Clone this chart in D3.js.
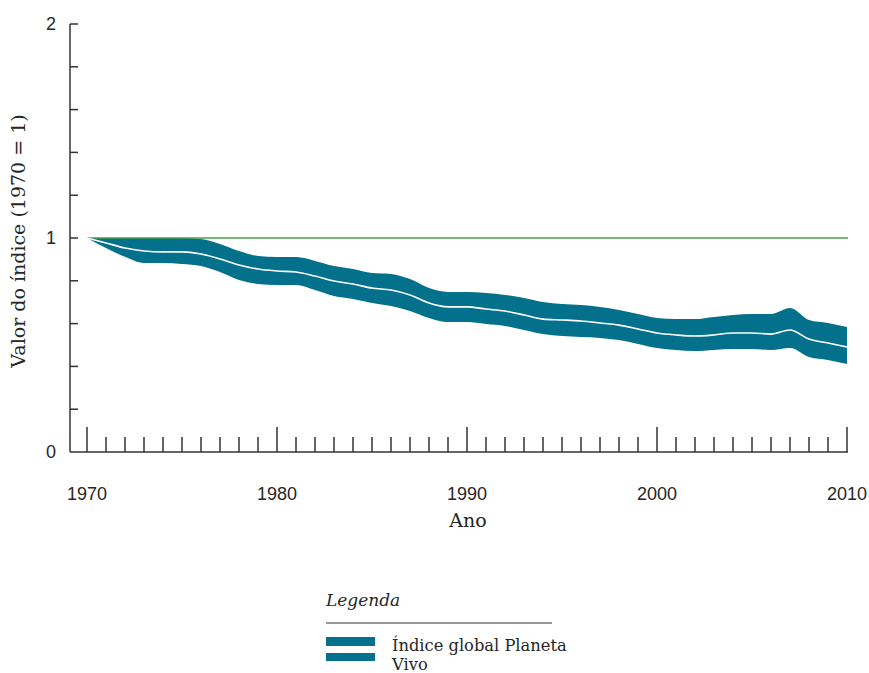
<!DOCTYPE html>
<html>
<head>
<meta charset="utf-8">
<script src="https://cdn.jsdelivr.net/npm/d3@7"></script>
<style>
  html, body { margin: 0; padding: 0; background: #fff; }
  svg { display: block; }
</style>
</head>
<body>
<svg id="chart" width="869" height="673"></svg>
<script>
// Living Planet Index, 1970–2010 (1970 = 1), with confidence limits
const years = d3.range(1970, 2011);
const indexValue = [
  1.000, 0.977, 0.953, 0.939, 0.935, 0.935, 0.925, 0.902, 0.874, 0.855,
  0.846, 0.841, 0.822, 0.799, 0.785, 0.766, 0.757, 0.734, 0.696, 0.678,
  0.678, 0.668, 0.659, 0.640, 0.621, 0.617, 0.612, 0.603, 0.593, 0.575,
  0.556, 0.547, 0.542, 0.547, 0.556, 0.556, 0.551, 0.570, 0.528, 0.509,
  0.491
];
const upperLimit = [
  1.000, 1.000, 1.000, 1.000, 1.000, 1.000, 0.995, 0.972, 0.939, 0.916,
  0.911, 0.911, 0.893, 0.869, 0.855, 0.836, 0.832, 0.808, 0.766, 0.748,
  0.748, 0.743, 0.734, 0.720, 0.701, 0.692, 0.687, 0.678, 0.664, 0.645,
  0.626, 0.621, 0.621, 0.631, 0.640, 0.645, 0.645, 0.673, 0.617, 0.603,
  0.584
];
const lowerLimit = [
  1.000, 0.953, 0.912, 0.883, 0.883, 0.879, 0.869, 0.841, 0.804, 0.785,
  0.780, 0.780, 0.757, 0.729, 0.715, 0.696, 0.682, 0.659, 0.626, 0.607,
  0.607, 0.598, 0.589, 0.570, 0.551, 0.542, 0.537, 0.533, 0.523, 0.505,
  0.486, 0.477, 0.472, 0.477, 0.481, 0.481, 0.477, 0.486, 0.444, 0.430,
  0.411
];
const yTickValues = d3.range(0, 2.0001, 0.2);
const yTickLabels = { 0: "0", 1: "1", 2: "2" };
const xLabelYears = [1970, 1980, 1990, 2000, 2010];

const bandColor = "#03708c";
const axisColor = "#333333";
const textColor = "#262626";
const refColor = "#4a9e4a";
const serif = "'DejaVu Serif', serif";
const sans = "'Liberation Sans', Arial, sans-serif";

const svg = d3.select("#chart");

const axisLeft = 70, axisBottom = 452, axisRight = 848, axisTop = 24;
const x = d3.scaleLinear().domain([1970, 2010]).range([87, 847]);
const y = d3.scaleLinear().domain([0, 2]).range([axisBottom, axisTop]);

const data = years.map((yr, i) => ({
  year: yr, v: indexValue[i], hi: upperLimit[i], lo: lowerLimit[i]
}));

// confidence band
const band = d3.area()
  .x(d => x(d.year))
  .y0(d => y(d.lo))
  .y1(d => y(d.hi))
  .curve(d3.curveMonotoneX);
svg.append("path")
  .datum(data)
  .attr("d", band)
  .attr("fill", bandColor);

// reference line at 1970 level
svg.append("line")
  .attr("x1", x(1970)).attr("x2", axisRight)
  .attr("y1", y(1)).attr("y2", y(1))
  .attr("stroke", refColor)
  .attr("stroke-width", 1.3);

// index line
const line = d3.line()
  .x(d => x(d.year))
  .y(d => y(d.v))
  .curve(d3.curveMonotoneX);
svg.append("path")
  .datum(data)
  .attr("d", line)
  .attr("fill", "none")
  .attr("stroke", "#ffffff")
  .attr("stroke-width", 1.6);

// y axis
const yAxis = svg.append("g").attr("stroke", axisColor).attr("stroke-width", 1.5);
yAxis.append("line")
  .attr("x1", axisLeft).attr("x2", axisLeft)
  .attr("y1", axisTop).attr("y2", axisBottom);
yAxis.selectAll("line.tick")
  .data(yTickValues.filter(v => v > 0.01))
  .join("line")
  .attr("class", "tick")
  .attr("x1", axisLeft).attr("x2", axisLeft + 8)
  .attr("y1", d => y(d)).attr("y2", d => y(d));

svg.selectAll("text.ylab")
  .data(Object.keys(yTickLabels).map(Number))
  .join("text")
  .attr("class", "ylab")
  .attr("x", 56)
  .attr("y", d => y(d))
  .attr("dy", "0.36em")
  .attr("text-anchor", "end")
  .attr("font-family", sans)
  .attr("font-size", 18)
  .attr("fill", textColor)
  .text(d => yTickLabels[d]);

// x axis
const xAxis = svg.append("g").attr("stroke", axisColor).attr("stroke-width", 1.5);
xAxis.append("line")
  .attr("x1", axisLeft).attr("x2", axisRight)
  .attr("y1", axisBottom).attr("y2", axisBottom);
xAxis.selectAll("line.tick")
  .data(years)
  .join("line")
  .attr("class", "tick")
  .attr("x1", d => x(d)).attr("x2", d => x(d))
  .attr("y1", axisBottom)
  .attr("y2", d => axisBottom - (d % 10 === 0 ? 25 : 15));

svg.selectAll("text.xlab")
  .data(xLabelYears)
  .join("text")
  .attr("class", "xlab")
  .attr("x", d => x(d))
  .attr("y", 500)
  .attr("text-anchor", "middle")
  .attr("font-family", sans)
  .attr("font-size", 18)
  .attr("fill", textColor)
  .text(d => d);

// axis titles
svg.append("text")
  .attr("x", 468).attr("y", 527)
  .attr("text-anchor", "middle")
  .attr("font-family", serif)
  .attr("font-size", 19)
  .attr("fill", textColor)
  .text("Ano");

svg.append("text")
  .attr("transform", "translate(25,241) rotate(-90)")
  .attr("text-anchor", "middle")
  .attr("font-family", serif)
  .attr("font-size", 19)
  .attr("fill", textColor)
  .text("Valor do índice (1970 = 1)");

// legend
const legend = svg.append("g");
legend.append("text")
  .attr("x", 326).attr("y", 606)
  .attr("font-family", serif)
  .attr("font-style", "italic")
  .attr("font-size", 17)
  .attr("fill", textColor)
  .text("Legenda");
legend.append("line")
  .attr("x1", 326).attr("x2", 552)
  .attr("y1", 623).attr("y2", 623)
  .attr("stroke", axisColor)
  .attr("stroke-width", 1);
legend.append("rect")
  .attr("x", 326).attr("y", 637).attr("width", 49).attr("height", 9)
  .attr("fill", bandColor);
legend.append("rect")
  .attr("x", 326).attr("y", 653).attr("width", 49).attr("height", 8)
  .attr("fill", bandColor);
legend.append("text")
  .attr("x", 392).attr("y", 651)
  .attr("font-family", serif)
  .attr("font-size", 16.3)
  .attr("fill", textColor)
  .text("Índice global Planeta");
legend.append("text")
  .attr("x", 392).attr("y", 670)
  .attr("font-family", serif)
  .attr("font-size", 16.3)
  .attr("fill", textColor)
  .text("Vivo");
</script>
</body>
</html>
